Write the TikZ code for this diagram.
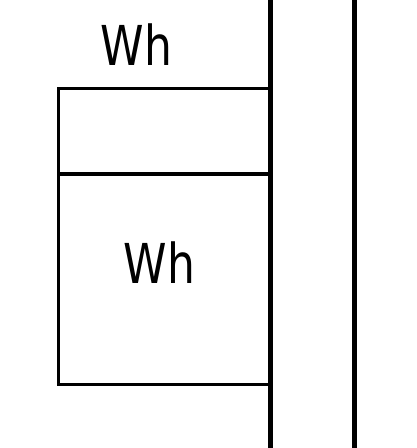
\documentclass[tikz,border=0pt]{standalone}
\usepackage{fontspec}
\setmainfont{DejaVu Sans}
\tikzset{
  wall/.style={line width=4.5pt},
  edge/.style={line width=3.5pt, line cap=rect},
  tag/.style={font=\fontsize{55}{55}\selectfont, inner sep=0pt, anchor=base, xscale=0.8}
}
\begin{document}
\begin{tikzpicture}[x=1pt,y=-1pt]
\useasboundingbox (0,0) rectangle (416,448);
%%   walls
    \draw[wall] (270.7,0) -- (270.7,448);
    \draw[wall] (354.7,0) -- (354.7,448);
%%   box
    \draw[edge] (270.7,88.7) -- (58.7,88.7) -- (58.7,384.5) -- (270.7,384.5);
    \draw[edge] (58.7,174) -- (270.7,174);
%%   labels
    \node[tag] (whtop) at (136.5,65) {Wh};
    \node[tag] (whbox) at (159.5,283) {Wh};
\end{tikzpicture}
\end{document}
